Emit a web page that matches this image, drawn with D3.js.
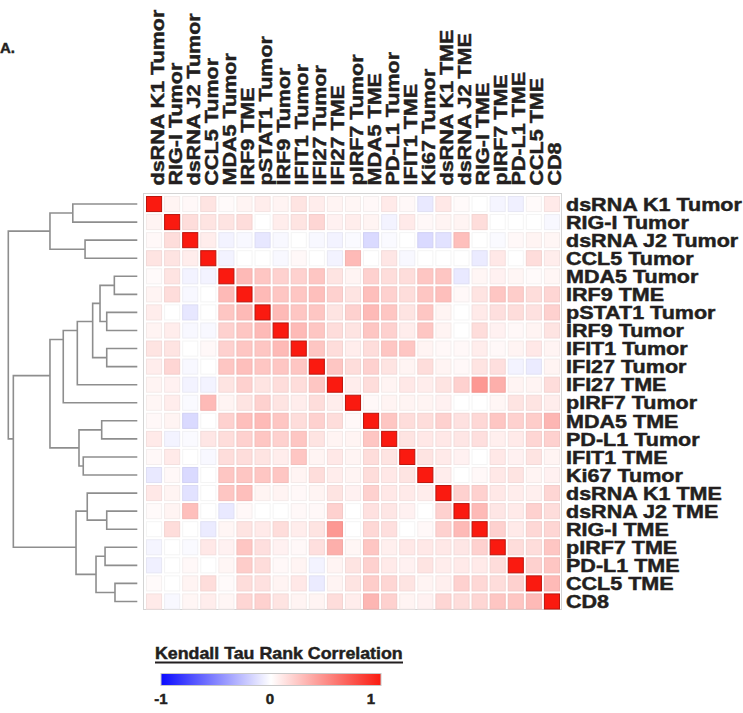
<!DOCTYPE html>
<html>
<head>
<meta charset="utf-8">
<script src="https://cdn.jsdelivr.net/npm/d3@7"></script>
<style>
  body { margin: 0; background: #fff; }
</style>
</head>
<body>
<div id="chart"></div>
<script>
var labels = ["dsRNA K1 Tumor", "RIG-I Tumor", "dsRNA J2 Tumor", "CCL5 Tumor", "MDA5 Tumor",
  "IRF9 TME", "pSTAT1 Tumor", "IRF9 Tumor", "IFIT1 Tumor", "IFI27 Tumor", "IFI27 TME",
  "pIRF7 Tumor", "MDA5 TME", "PD-L1 Tumor", "IFIT1 TME", "Ki67 Tumor", "dsRNA K1 TME",
  "dsRNA J2 TME", "RIG-I TME", "pIRF7 TME", "PD-L1 TME", "CCL5 TME", "CD8"];

// lower triangle of the Kendall tau matrix, row i holds columns 0..i-1 (diagonal = 1)
var tauLower = [
  [],
  [0.05],
  [0.03, 0.15],
  [0.12, 0.12, 0.08],
  [0.02, 0.12, -0.05, -0.05],
  [0.05, 0.15, -0.03, 0, 0.3],
  [0.08, 0, -0.1, 0, 0.25, 0.3],
  [0.05, 0.08, -0.03, -0.03, 0.2, 0.25, 0.3],
  [0.12, 0.12, 0, 0.03, 0.2, 0.25, 0.25, 0.3],
  [0.08, 0.18, -0.03, 0, 0.25, 0.28, 0.25, 0.25, 0.25],
  [0.05, 0.06, -0.05, -0.05, 0.12, 0.2, 0.12, 0.15, 0.15, 0.25],
  [0.04, 0.08, -0.02, 0.3, 0.05, 0.12, 0.2, 0.12, 0.08, 0.15, 0.08],
  [0.03, 0.05, -0.15, 0, 0.2, 0.28, 0.3, 0.25, 0.15, 0.2, 0.15, 0.03],
  [0.09, -0.05, -0.02, 0.11, 0.15, 0.2, 0.25, 0.2, 0.25, 0.12, 0.05, 0.05, 0.25],
  [0.03, 0.09, 0, -0.03, 0.15, 0.15, 0.12, 0.08, 0.25, 0.05, 0.1, 0.05, 0.15, 0.12],
  [-0.09, 0.03, -0.15, 0, 0.25, 0.25, 0.25, 0.25, 0.05, 0.15, 0.08, 0.05, 0.15, 0.1, 0.12],
  [0.1, 0.05, -0.12, 0, 0.25, 0.28, 0.05, 0.05, 0.03, 0.05, 0.12, 0.06, 0.2, 0.1, 0.09, 0.08],
  [0.02, 0.05, 0.28, 0, -0.09, 0.03, 0, 0, 0.03, 0.03, 0.2, 0, 0.13, 0.11, 0.06, 0, 0.2],
  [0, 0.15, 0, -0.08, 0.04, 0.12, 0.09, 0.15, 0.08, 0.12, 0.45, 0, 0.17, 0.14, 0, 0.03, 0.2, 0.3],
  [-0.04, 0, -0.02, 0.1, 0.06, 0.25, 0.14, 0.06, 0.03, 0.14, 0.35, 0.04, 0.25, 0.07, 0.1, 0.1, 0.1, 0.11, 0.2],
  [-0.06, 0, 0.03, 0, 0.04, 0.22, 0.15, 0.03, 0.05, -0.05, 0.05, 0.12, 0.2, 0.09, 0.06, 0.12, 0.08, 0.09, 0.09, 0.15],
  [0.02, 0, 0.05, 0.15, 0.02, 0.15, 0.13, 0.05, 0.1, -0.08, 0.05, 0.12, 0.22, 0.18, 0.12, 0.05, 0.07, 0.2, 0.17, 0.15, 0.2],
  [0.09, -0.03, 0.04, 0.08, 0.04, 0.18, 0.2, 0.12, 0.05, 0.05, 0.15, 0.08, 0.32, 0.2, 0.05, 0.06, 0.18, 0.15, 0.18, 0.25, 0.25, 0.3]
];

// hierarchical clustering of the rows: [left, right, height]; ids >= 23 are earlier merges (23 + index)
var merges = [
  [21, 22, 0.173], [4, 5, 0.178], [6, 7, 0.237], [8, 9, 0.237], [17, 18, 0.237],
  [19, 20, 0.250], [12, 13, 0.276], [24, 25, 0.289], [28, 23, 0.320], [30, 26, 0.346],
  [16, 27, 0.388], [2, 3, 0.405], [14, 15, 0.419], [29, 35, 0.452], [32, 10, 0.465],
  [33, 31, 0.475], [0, 1, 0.500], [37, 11, 0.574], [39, 34, 0.677], [40, 36, 0.677],
  [42, 38, 0.961], [41, 43, 1.0]
];

var legendTitle = "Kendall Tau Rank Correlation";
var legendTicks = [-1, 0, 1];

var W = 743, H = 713, n = labels.length;
var FONT = "'Liberation Sans', Arial, Helvetica, sans-serif";

var svg = d3.select("#chart").append("svg")
    .attr("width", W)
    .attr("height", H);

svg.append("rect").attr("width", W).attr("height", H).attr("fill", "#fff");

var x = d3.scaleBand().domain(d3.range(n)).range([145, 561]);
var y = d3.scaleBand().domain(d3.range(n)).range([195, 610.5]);
var color = d3.scaleLinear().domain([-1, 0, 1]).range(["#0a0aff", "#ffffff", "#fa1a10"]);

var cells = [];
d3.range(n).forEach(function(i) {
  d3.range(n).forEach(function(j) {
    var v = i === j ? 1 : (i > j ? tauLower[i][j] : tauLower[j][i]);
    cells.push({ row: i, col: j, value: v });
  });
});

// heavy black labels, a thin outline makes them as dark as the original
function boldText(sel, size) {
  return sel.attr("font-family", FONT)
    .attr("font-weight", "bold")
    .attr("font-size", size)
    .attr("fill", "#231f20")
    .attr("stroke", "#231f20")
    .attr("stroke-width", 0.45);
}

// frame
svg.append("rect")
    .attr("x", 143.5).attr("y", 193.5)
    .attr("width", 418).attr("height", 416)
    .attr("fill", "none")
    .attr("stroke", "#d4d4d4");

svg.append("g").selectAll("rect")
    .data(cells)
  .enter().append("rect")
    .attr("x", function(d) { return x(d.col) + 1.5; })
    .attr("y", function(d) { return y(d.row) + 1.5; })
    .attr("width", x.bandwidth() - 3)
    .attr("height", y.bandwidth() - 3)
    .attr("fill", function(d) { return color(d.value); })
    .attr("stroke", function(d) { return d3.color(color(d.value)).darker(d.row === d.col ? 0.8 : 0.12); })
    .attr("stroke-width", 1);

// dendrogram
var hx = d3.scaleLinear().domain([0, 1]).range([137.3, 8.3]);
var nodes = labels.map(function(l, i) {
  return { h: 0, leaves: [i], y: y(i) + y.bandwidth() / 2 };
});
merges.forEach(function(m) {
  var a = nodes[m[0]], b = nodes[m[1]];
  var leaves = a.leaves.concat(b.leaves);
  nodes.push({
    a: a, b: b, h: m[2], leaves: leaves,
    y: d3.mean(leaves, function(i) { return y(i) + y.bandwidth() / 2; })
  });
});

svg.append("g").selectAll("path")
    .data(nodes.filter(function(d) { return d.a; }))
  .enter().append("path")
    .attr("d", function(d) {
      return "M" + hx(d.a.h) + "," + d.a.y + "H" + hx(d.h) + "V" + d.b.y + "H" + hx(d.b.h);
    })
    .attr("fill", "none")
    .attr("stroke", "#8e8e8e")
    .attr("stroke-width", 1.6);

// labels
var rowLabels = svg.append("g").selectAll("text")
    .data(labels)
  .enter().append("text")
    .call(boldText, 17.5)
    .text(function(d) { return d; });

var sx = 176 / rowLabels.node().getComputedTextLength();

rowLabels.attr("transform", function(d, i) {
  return "translate(566," + (y(i) + y.bandwidth() / 2 + 6.7) + ") scale(" + sx + ",1)";
});

svg.append("g").selectAll("text")
    .data(labels)
  .enter().append("text")
    .call(boldText, 17.5)
    .attr("transform", function(d, i) {
      return "translate(" + (x(i) + x.bandwidth() / 2 + 9.5) + ",185.5) rotate(-90) scale(" + sx + ",1)";
    })
    .text(function(d) { return d; });

// panel letter
svg.append("text")
    .call(boldText, 15)
    .attr("x", 0).attr("y", 53)
    .text("A.");

// legend
var title = svg.append("text")
    .call(boldText, 16)
    .text(legendTitle);
var tx = 248 / title.node().getComputedTextLength();
title.attr("transform", "translate(155,659) scale(" + tx + ",1)");

svg.append("line")
    .attr("x1", 155).attr("x2", 403)
    .attr("y1", 662.5).attr("y2", 662.5)
    .attr("stroke", "#231f20")
    .attr("stroke-width", 2);

var grad = svg.append("defs").append("linearGradient").attr("id", "tauGrad");
grad.selectAll("stop")
    .data(d3.range(-1, 1.001, 0.1))
  .enter().append("stop")
    .attr("offset", function(d) { return ((d + 1) / 2 * 100) + "%"; })
    .attr("stop-color", function(d) { return color(d); });

svg.append("rect")
    .attr("x", 161).attr("y", 673.5)
    .attr("width", 220).attr("height", 12)
    .attr("fill", "url(#tauGrad)")
    .attr("stroke", "#c8c8c8");

var lx = d3.scaleLinear().domain([-1, 0, 1]).range([161, 270, 371]);
svg.append("g").selectAll("text")
    .data(legendTicks)
  .enter().append("text")
    .call(boldText, 15)
    .attr("x", function(d) { return lx(d); })
    .attr("y", 704)
    .attr("text-anchor", "middle")
    .text(function(d) { return d; });
</script>
</body>
</html>
